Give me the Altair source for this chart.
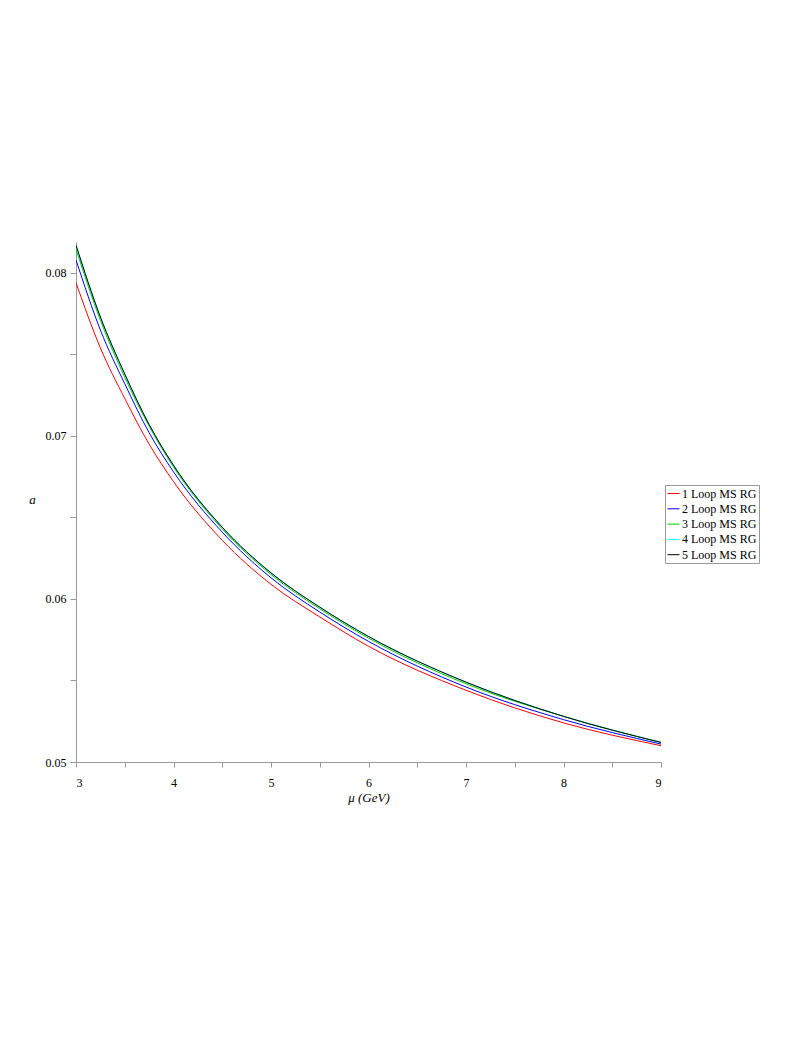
import altair as alt
import pandas as pd

mu = [3.0, 3.25, 3.5, 3.75, 4.0, 4.5, 5.0, 5.5, 6.0, 7.0, 8.0, 9.0]
loop1 = [0.0794, 0.0754, 0.0723, 0.0695, 0.0672, 0.0636, 0.0609, 0.0589, 0.0571, 0.0544, 0.0524, 0.0510]
loop2 = [0.0808, 0.0765, 0.0732, 0.0702, 0.0678, 0.0641, 0.0613, 0.0592, 0.0574, 0.0546, 0.0526, 0.0511]
loop3 = [0.08145, 0.0771, 0.0736, 0.0706, 0.0681, 0.0643, 0.0615, 0.0594, 0.0576, 0.0548, 0.0528, 0.0512]
loop4 = [0.0817, 0.0773, 0.0738, 0.0707, 0.0682, 0.0644, 0.0616, 0.0595, 0.0577, 0.0549, 0.0528, 0.0512]
loop5 = [0.0817, 0.0773, 0.0738, 0.0707, 0.0682, 0.0644, 0.0616, 0.0595, 0.0577, 0.0549, 0.0528, 0.0512]

names = ["1 Loop MS RG", "2 Loop MS RG", "3 Loop MS RG", "4 Loop MS RG", "5 Loop MS RG"]
colors = ["#ff0000", "#0000ff", "#00cc00", "#00ffff", "#000000"]
x_ticks = [3, 3.5, 4, 4.5, 5, 5.5, 6, 6.5, 7, 7.5, 8, 8.5, 9]
y_ticks = [0.05, 0.055, 0.06, 0.065, 0.07, 0.075, 0.08]

rows = []
for name, series in zip(names, [loop1, loop2, loop3, loop4, loop5]):
    for m, v in zip(mu, series):
        rows.append({"mu": m, "a": v, "series": name})
df = pd.DataFrame(rows)

font = "Liberation Serif"

chart = alt.Chart(df).mark_line(strokeWidth=1, interpolate="monotone", clip=True).encode(
    x=alt.X("mu:Q", scale=alt.Scale(domain=[3, 9], nice=False, zero=False),
            axis=alt.Axis(values=x_ticks, title="μ (GeV)",
                          labelExpr="datum.value % 1 == 0 ? format(datum.value, 'd') : ''",
                          labelFont=font, titleFont=font,
                          titleFontStyle="italic", titleFontWeight="normal",
                          titlePadding=3, labelPadding=10, tickSize=5)),
    y=alt.Y("a:Q", scale=alt.Scale(domain=[0.05, 0.0819], nice=False, zero=False),
            axis=alt.Axis(values=y_ticks, title="a", format=".2f",
                          labelExpr="abs(datum.value*100 - round(datum.value*100)) < 0.01 ? datum.label : ''",
                          labelFont=font, titleFont=font,
                          titleAngle=0, titleFontStyle="italic", titleFontWeight="normal",
                          titleX=-44, titleY=264, titleAlign="center",
                          tickSize=6, labelPadding=4)),
    color=alt.Color("series:N", scale=alt.Scale(domain=names, range=colors),
                    legend=alt.Legend(title=None, orient="none", legendX=589, legendY=243,
                                      symbolType="stroke", symbolSize=144, symbolStrokeWidth=1,
                                      strokeColor="#999999", fillColor="white",
                                      padding=2, rowPadding=2.3, labelOffset=2,
                                      labelFont=font, labelFontSize=12, labelColor="black")),
).properties(
    width=585, height=520,
    autosize=alt.AutoSizeParams(type="none"),
    padding={"left": 68, "top": 234, "right": 120, "bottom": 200},
).configure_view(
    stroke=None
).configure_axis(
    grid=False, domainColor="#999999", tickColor="#999999",
    labelFont=font, titleFont=font, labelFontSize=12, titleFontSize=13,
    labelColor="black", titleColor="black"
)

chart.save("out.html", embed_options={"renderer": "svg", "actions": False})
